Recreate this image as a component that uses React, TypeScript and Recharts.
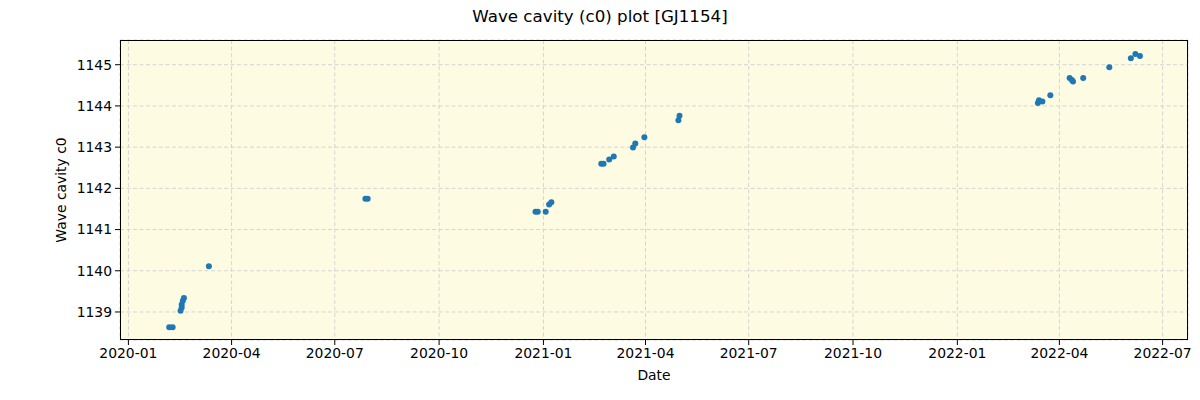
import { ScatterChart, Scatter, XAxis, YAxis, CartesianGrid } from 'recharts';

// observation dates and measured wave cavity c0
const dates = [
  '2020-02-06', '2020-02-09',
  '2020-02-16', '2020-02-17', '2020-02-17', '2020-02-18', '2020-02-19',
  '2020-03-12',
  '2020-07-28', '2020-07-30',
  '2020-12-25', '2020-12-27', '2021-01-03', '2021-01-06', '2021-01-08',
  '2021-02-21', '2021-02-23', '2021-02-28', '2021-03-04',
  '2021-03-21', '2021-03-23', '2021-03-31',
  '2021-04-30', '2021-05-01',
  '2022-03-13', '2022-03-14', '2022-03-17', '2022-03-24',
  '2022-04-10', '2022-04-12', '2022-04-13', '2022-04-22',
  '2022-05-15', '2022-06-03', '2022-06-07', '2022-06-11',
];

const c0Values = [
  1138.63, 1138.63,
  1139.03, 1139.11, 1139.18, 1139.27, 1139.34,
  1140.11,
  1141.75, 1141.75,
  1141.43, 1141.43, 1141.43, 1141.61, 1141.66,
  1142.60, 1142.60, 1142.70, 1142.77,
  1142.99, 1143.09, 1143.24,
  1143.65, 1143.76,
  1144.07, 1144.14, 1144.11, 1144.26,
  1144.68, 1144.63, 1144.59, 1144.68,
  1144.94, 1145.16, 1145.26, 1145.21,
];

const xTickLabels = [
  '2020-01', '2020-04', '2020-07', '2020-10', '2021-01', '2021-04',
  '2021-07', '2021-10', '2022-01', '2022-04', '2022-07',
];

const yTicks = [1139, 1140, 1141, 1142, 1143, 1144, 1145];

const DAY = 86400000;
const toTime = (s: string) => Date.parse(s + (s.length === 7 ? '-01' : '') + 'T00:00:00Z');

const data = dates.map((d, i) => ({ t: toTime(d), c0: c0Values[i] }));
const xTicks = xTickLabels.map(toTime);
const start = toTime('2020-01-01');
const xDomain = [start - 7.4 * DAY, start + 934.4 * DAY];
const yDomain = [1138.32, 1145.6];

const fmtTick = (v: number) => {
  const d = new Date(v);
  return `${d.getUTCFullYear()}-${String(d.getUTCMonth() + 1).padStart(2, '0')}`;
};

const font = '"DejaVu Sans", sans-serif';
const tickStyle = { fontSize: 13.9, fill: '#000', fontFamily: font };

function Dot(props: any) {
  return <circle cx={props.cx} cy={props.cy} r={3} fill="#1f77b4" />;
}

export default function App() {
  return (
    <div style={{ position: 'absolute', left: 0, top: 0, width: 1200, height: 400, background: '#fff', fontFamily: font }}>
      <div style={{ position: 'absolute', top: 5, left: 0, width: 1200, textAlign: 'center', fontSize: 16.7, lineHeight: '22px', color: '#000' }}>
        Wave cavity (c0) plot [GJ1154]
      </div>
      <div style={{ position: 'absolute', left: 61, top: 190, transform: 'translate(-50%, -50%) rotate(-90deg)', fontSize: 13.9, whiteSpace: 'nowrap', color: '#000' }}>
        Wave cavity c0
      </div>
      <div style={{ position: 'absolute', left: 654, top: 375, transform: 'translate(-50%, -50%)', fontSize: 13.9, color: '#000' }}>
        Date
      </div>
      <ScatterChart
        width={1200}
        height={400}
        margin={{ top: 40, right: 12, bottom: 30, left: 60 }}
      >
        <CartesianGrid
          fill="#fdfce3"
          stroke="#d4d4d4"
          strokeDasharray="4 2.5"
        />
        <XAxis
          dataKey="t"
          type="number"
          domain={xDomain}
          ticks={xTicks}
          tickFormatter={fmtTick}
          allowDataOverflow
          height={30}
          tick={tickStyle}
          tickSize={5}
          tickMargin={3}
          axisLine={false}
          tickLine={{ stroke: '#000' }}
        />
        <YAxis
          dataKey="c0"
          type="number"
          domain={yDomain}
          ticks={yTicks}
          allowDataOverflow
          width={60}
          tick={tickStyle}
          tickSize={5}
          tickMargin={3}
          axisLine={false}
          tickLine={{ stroke: '#000' }}
        />
        <Scatter
          data={data}
          shape={Dot}
          isAnimationActive={false}
        />
      </ScatterChart>
      <div style={{ position: 'absolute', left: 120, top: 40, width: 1068, height: 300, border: '1px solid #000', boxSizing: 'border-box', pointerEvents: 'none' }} />
    </div>
  );
}
